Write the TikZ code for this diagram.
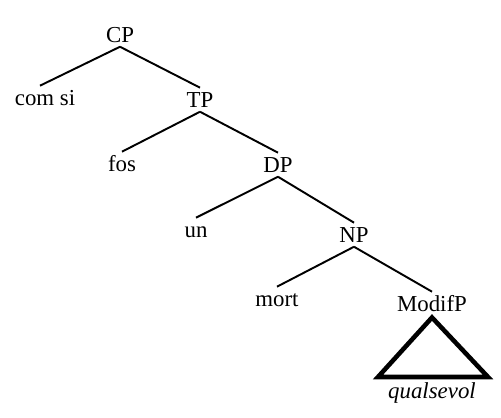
\documentclass[tikz,border=0pt]{standalone}
\usepackage{fontspec}
\setmainfont{Liberation Serif}
\usepackage{tikz}
\tikzset{
  cat/.style={
    anchor=base,
    inner sep=0pt,
    text height=1.08em,
    text depth=0.25em,
    font=\fontsize{13}{15}\selectfont,
  },
  branch/.style={
    line width=1.1pt
  },
  roof/.style={
    line width=2.6pt,
    line join=miter
  }
}

\begin{document}
\begin{tikzpicture}[x=0.02cm, y=-0.02cm]
  \useasboundingbox (0,0) rectangle (501,417);

  % Categories and words, level by level
  \node [cat] (cp)    at (120,42)  {CP};
  \node [cat] (comsi) at (45,105)  {com si};
  \node [cat] (tp)    at (200,107) {TP};
  \node [cat] (fos)   at (122,171) {fos};
  \node [cat] (dp)    at (278,172) {DP};
  \node [cat] (un)    at (196,237) {un};
  \node [cat] (np)    at (354,242) {NP};
  \node [cat] (mort)  at (277,306) {mort};
  \node [cat] (modif) at (432,311) {ModifP};
  \node [cat, font=\fontsize{13}{15}\selectfont\itshape] (qual) at (432,398) {qualsevol};

  % Roof corners
  \coordinate (roofL) at (378,377);
  \coordinate (roofR) at (488,377);

  % Branches
  \draw [branch] (cp.south) -- ([xshift=-0.1cm]comsi.north);
  \draw [branch] (cp.south) -- (tp.north);
  \draw [branch] (tp.south) -- (fos.north);
  \draw [branch] (tp.south) -- (dp.north);
  \draw [branch] (dp.south) -- (un.north);
  \draw [branch] (dp.south) -- (np.north);
  \draw [branch] (np.south) -- (mort.north);
  \draw [branch] (np.south) -- (modif.north);

  % Triangle over the unanalysed phrase
  \draw [roof] ([yshift=-1pt]modif.south) -- (roofR) -- (roofL) -- cycle;
\end{tikzpicture}
\end{document}
